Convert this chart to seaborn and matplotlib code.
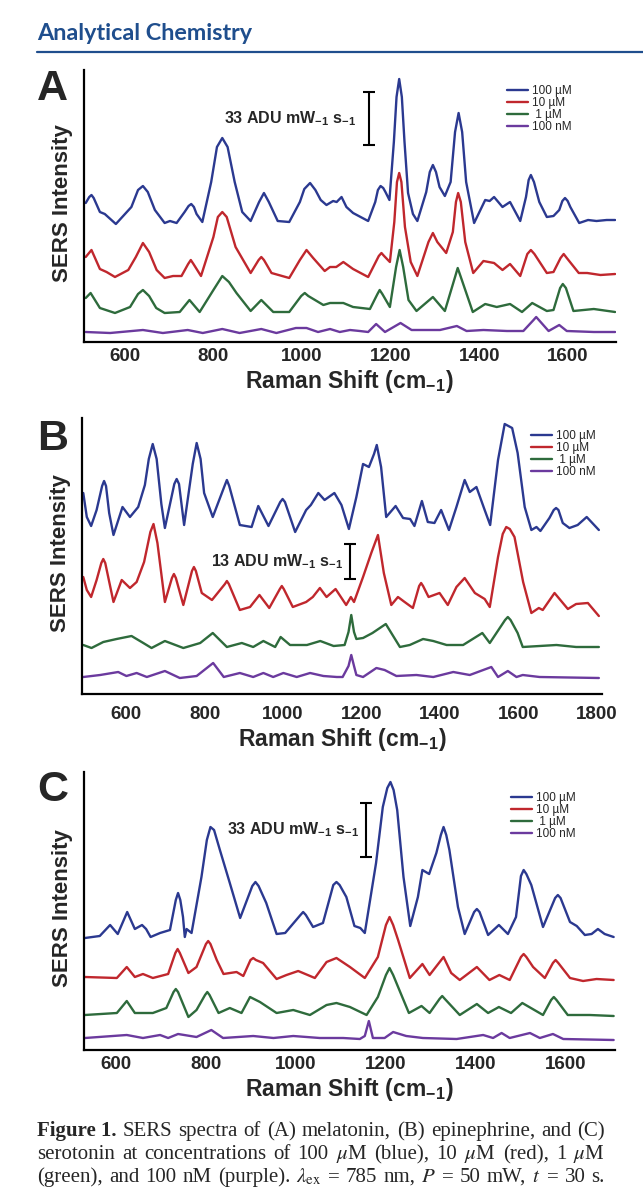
import matplotlib
matplotlib.use('Agg')
import matplotlib.pyplot as plt
import seaborn as sns
import pandas as pd

# ---- data: (Raman shift in cm-1, intensity in arbitrary units) ----
conc_labels = ['100 µM', '10 µM', ' 1 µM', '100 nM']
line_colors = ['#2b3990', '#c0272d', '#2e6b3c', '#6b3a9e']

# (A) melatonin
mel_100uM = [(512, 139), (520, 145), (525, 147), (530, 144), (544, 130), (555, 128), (580, 118), (615, 135),
             (630, 152), (641, 156), (652, 150), (668, 132), (690, 119), (702, 121), (717, 119), (735, 130),
             (744, 136), (750, 138), (756, 135), (762, 128), (775, 120), (795, 160), (808, 195), (820, 204),
             (832, 195), (848, 160), (865, 130), (884, 121), (903, 140), (914, 149), (925, 140), (945, 121),
             (971, 120), (995, 140), (1005, 153), (1018, 159), (1030, 152), (1042, 142), (1055, 137),
             (1070, 141), (1078, 140), (1089, 145), (1100, 135), (1115, 129), (1149, 121), (1165, 140),
             (1171, 152), (1177, 156), (1183, 154), (1188, 150), (1197, 142), (1207, 200), (1213, 245),
             (1219, 263), (1225, 245), (1231, 200), (1239, 149), (1250, 128), (1260, 121), (1280, 150),
             (1288, 170), (1295, 177), (1302, 170), (1310, 155), (1322, 146), (1335, 160), (1345, 210),
             (1353, 229), (1361, 210), (1370, 160), (1388, 119), (1413, 142), (1423, 141), (1433, 145),
             (1452, 135), (1469, 140), (1492, 121), (1505, 145), (1511, 162), (1516, 167), (1523, 160),
             (1535, 140), (1552, 125), (1567, 126), (1580, 132), (1587, 141), (1593, 144), (1599, 141),
             (1605, 135), (1625, 119), (1645, 122), (1664, 121), (1687, 122), (1706, 122)]
mel_10uM = [(512, 85), (525, 92), (544, 73), (559, 70), (578, 65), (608, 72), (625, 85), (641, 99), (655, 90),
            (672, 72), (690, 64), (709, 66), (728, 66), (743, 78), (749, 82), (755, 78), (772, 66), (800, 105),
            (810, 125), (820, 130), (830, 125), (850, 95), (884, 69), (902, 82), (908, 85), (914, 82), (931, 69),
            (971, 64), (995, 82), (1010, 92), (1025, 84), (1051, 71), (1063, 75), (1077, 75), (1093, 80),
            (1115, 73), (1149, 65), (1173, 86), (1179, 89), (1185, 86), (1198, 80), (1208, 120), (1214, 160),
            (1219, 169), (1224, 160), (1232, 115), (1245, 80), (1260, 66), (1285, 100), (1295, 109),
            (1305, 100), (1325, 89), (1340, 110), (1347, 140), (1352, 149), (1358, 140), (1368, 100), (1386, 69),
            (1409, 81), (1433, 79), (1452, 72), (1469, 78), (1492, 66), (1508, 88), (1516, 92), (1524, 88),
            (1552, 69), (1567, 70), (1583, 84), (1590, 88), (1597, 84), (1624, 69), (1643, 69), (1673, 67),
            (1706, 68)]
mel_1uM = [(512, 44), (523, 49), (544, 34), (578, 29), (612, 35), (630, 48), (641, 52), (655, 46), (671, 34),
           (690, 29), (724, 30), (746, 42), (769, 30), (800, 52), (820, 66), (835, 60), (852, 49), (884, 31),
           (908, 42), (935, 30), (971, 30), (998, 46), (1006, 49), (1014, 46), (1048, 37), (1063, 39),
           (1093, 39), (1115, 35), (1153, 33), (1170, 48), (1175, 52), (1181, 48), (1198, 35), (1212, 75),
           (1220, 92), (1228, 75), (1240, 42), (1258, 31), (1295, 45), (1322, 31), (1345, 65), (1351, 74),
           (1358, 65), (1385, 30), (1413, 38), (1439, 35), (1469, 38), (1496, 30), (1519, 39), (1552, 31),
           (1567, 32), (1582, 54), (1588, 58), (1595, 54), (1612, 31), (1658, 33), (1706, 30)]
mel_100nM = [(512, 10), (567, 9), (641, 12), (686, 9), (742, 12), (776, 9), (820, 13), (859, 9), (908, 13),
             (942, 9), (986, 14), (1010, 14), (1036, 10), (1063, 13), (1085, 10), (1108, 12), (1130, 11),
             (1149, 10), (1167, 18), (1187, 10), (1222, 19), (1247, 12), (1311, 12), (1349, 16), (1371, 11),
             (1409, 12), (1462, 11), (1499, 11), (1522, 22), (1528, 25), (1534, 22), (1556, 11), (1580, 17),
             (1597, 11), (1658, 10), (1706, 10)]

# (B) epinephrine
epi_100uM = [(491, 201), (500, 177), (511, 168), (525, 184), (539, 208), (544, 213), (549, 208), (557, 181),
             (568, 159), (591, 187), (610, 177), (631, 187), (648, 209), (658, 235), (668, 250), (678, 235),
             (690, 190), (699, 166), (723, 210), (729, 215), (735, 210), (748, 169), (770, 230), (780, 251),
             (790, 235), (799, 201), (821, 177), (851, 208), (857, 214), (863, 208), (890, 169), (920, 167),
             (937, 188), (963, 168), (993, 192), (999, 195), (1005, 192), (1031, 162), (1059, 184), (1071, 189),
             (1090, 201), (1106, 194), (1131, 201), (1149, 189), (1168, 165), (1187, 197), (1204, 230),
             (1219, 227), (1232, 240), (1239, 249), (1250, 227), (1263, 177), (1287, 188), (1306, 176),
             (1324, 175), (1335, 168), (1354, 193), (1369, 172), (1386, 171), (1403, 184), (1423, 164),
             (1442, 187), (1463, 214), (1476, 202), (1493, 207), (1514, 184), (1528, 169), (1548, 234),
             (1565, 270), (1584, 266), (1598, 241), (1616, 187), (1633, 164), (1646, 167), (1656, 163),
             (1679, 176), (1690, 184), (1696, 186), (1702, 184), (1713, 171), (1730, 166), (1751, 169),
             (1774, 177), (1805, 164)]
epi_10uM = [(491, 117), (500, 104), (511, 97), (525, 114), (537, 131), (542, 135), (547, 131), (568, 92),
            (589, 114), (610, 106), (627, 112), (646, 132), (662, 162), (670, 170), (680, 151), (699, 92),
            (717, 116), (722, 120), (727, 116), (746, 89), (768, 123), (773, 127), (778, 123), (793, 101),
            (819, 94), (852, 110), (857, 113), (862, 110), (890, 84), (916, 87), (940, 99), (965, 86),
            (992, 105), (997, 108), (1002, 105), (1025, 87), (1059, 92), (1076, 97), (1094, 106), (1111, 97),
            (1134, 105), (1161, 89), (1173, 97), (1181, 92), (1204, 117), (1225, 141), (1242, 159), (1257, 121),
            (1276, 89), (1293, 97), (1310, 92), (1331, 86), (1347, 108), (1352, 111), (1357, 108), (1371, 97),
            (1399, 101), (1420, 89), (1442, 107), (1463, 116), (1489, 101), (1514, 95), (1527, 87), (1548, 137),
            (1560, 160), (1569, 167), (1578, 165), (1590, 157), (1612, 112), (1633, 81), (1652, 86), (1662, 84),
            (1692, 101), (1726, 85), (1747, 90), (1777, 91), (1805, 78)]
epi_1uM = [(491, 49), (512, 46), (542, 52), (576, 55), (614, 58), (644, 51), (665, 46), (699, 53), (746, 46),
           (789, 51), (821, 61), (857, 47), (895, 51), (924, 47), (950, 53), (980, 47), (994, 57), (1018, 49),
           (1061, 49), (1095, 53), (1129, 48), (1157, 49), (1167, 62), (1174, 79), (1181, 62), (1187, 55),
           (1204, 56), (1228, 61), (1262, 70), (1298, 47), (1323, 49), (1357, 55), (1383, 53), (1417, 49),
           (1459, 49), (1508, 61), (1527, 51), (1566, 74), (1573, 77), (1580, 74), (1598, 61), (1611, 47),
           (1654, 48), (1697, 49), (1747, 47), (1805, 47)]
epi_100nM = [(491, 17), (534, 19), (580, 22), (601, 18), (627, 21), (653, 17), (699, 23), (737, 16), (780, 18),
             (822, 31), (849, 17), (890, 21), (924, 17), (950, 21), (975, 17), (1001, 21), (1035, 17), (1069, 21),
             (1103, 18), (1137, 17), (1152, 17), (1167, 28), (1174, 39), (1181, 28), (1187, 19), (1204, 17),
             (1238, 26), (1259, 24), (1289, 18), (1340, 19), (1383, 17), (1434, 22), (1476, 19), (1531, 27),
             (1548, 17), (1573, 23), (1595, 17), (1611, 19), (1654, 17), (1805, 16)]

# (C) serotonin
ser_100uM = [(531, 112), (564, 114), (587, 125), (604, 116), (625, 138), (642, 121), (658, 125), (667, 121),
             (677, 113), (698, 117), (720, 120), (733, 150), (738, 157), (743, 150), (749, 133), (753, 113),
             (757, 121), (768, 117), (790, 173), (802, 210), (810, 223), (818, 220), (831, 200), (853, 167),
             (876, 132), (903, 164), (910, 168), (917, 164), (934, 147), (957, 116), (976, 117), (1010, 135),
             (1016, 138), (1022, 135), (1038, 123), (1060, 127), (1083, 165), (1090, 168), (1097, 165),
             (1112, 153), (1130, 124), (1143, 122), (1153, 117), (1178, 187), (1193, 243), (1203, 262),
             (1210, 268), (1217, 260), (1225, 240), (1239, 173), (1254, 124), (1271, 153), (1281, 180),
             (1296, 176), (1312, 197), (1322, 215), (1328, 223), (1334, 215), (1341, 200), (1360, 143),
             (1375, 116), (1396, 138), (1402, 141), (1408, 138), (1427, 115), (1451, 125), (1471, 116),
             (1489, 133), (1500, 174), (1506, 180), (1512, 176), (1523, 165), (1549, 123), (1576, 152),
             (1582, 155), (1588, 152), (1609, 128), (1624, 124), (1642, 115), (1657, 116), (1671, 121),
             (1686, 116), (1706, 113)]
ser_10uM = [(531, 73), (602, 72), (624, 83), (642, 73), (660, 76), (682, 72), (716, 76), (732, 97), (737, 101),
            (742, 97), (761, 77), (779, 83), (800, 106), (805, 109), (810, 106), (824, 90), (839, 76), (868, 78),
            (883, 74), (899, 90), (905, 92), (911, 90), (927, 87), (957, 71), (979, 75), (1005, 79), (1042, 72),
            (1068, 88), (1090, 92), (1120, 83), (1153, 72), (1182, 93), (1200, 125), (1208, 133), (1216, 125),
            (1227, 110), (1253, 72), (1281, 86), (1297, 75), (1328, 93), (1345, 77), (1364, 70), (1402, 83),
            (1430, 70), (1452, 75), (1475, 70), (1500, 93), (1506, 96), (1512, 93), (1527, 83), (1553, 72),
            (1571, 87), (1577, 90), (1583, 87), (1609, 72), (1638, 69), (1668, 71), (1706, 70)]
ser_1uM = [(531, 35), (602, 37), (624, 49), (642, 37), (682, 37), (712, 42), (728, 58), (733, 61), (738, 58),
           (761, 33), (779, 40), (798, 55), (803, 58), (808, 55), (828, 37), (853, 42), (879, 37), (898, 53),
           (920, 48), (957, 37), (994, 40), (1031, 35), (1068, 45), (1090, 47), (1120, 43), (1157, 35),
           (1182, 53), (1200, 75), (1208, 82), (1216, 75), (1227, 63), (1251, 37), (1279, 44), (1297, 37),
           (1319, 51), (1325, 54), (1331, 51), (1364, 35), (1402, 46), (1427, 37), (1451, 43), (1478, 37),
           (1503, 47), (1549, 35), (1567, 50), (1573, 53), (1579, 50), (1604, 35), (1653, 35), (1706, 34)]
ser_100nM = [(531, 12), (624, 15), (660, 12), (698, 15), (716, 12), (738, 16), (779, 13), (812, 20), (838, 12),
             (905, 14), (950, 12), (994, 14), (1053, 12), (1105, 12), (1142, 11), (1153, 14), (1162, 29),
             (1171, 12), (1197, 12), (1216, 18), (1245, 14), (1282, 12), (1357, 11), (1416, 15), (1438, 12),
             (1457, 17), (1475, 12), (1520, 17), (1542, 12), (1571, 16), (1594, 11), (1706, 10)]

panel_letters = ['A', 'B', 'C']
panel_series = [[mel_100uM, mel_10uM, mel_1uM, mel_100nM],
                [epi_100uM, epi_10uM, epi_1uM, epi_100nM],
                [ser_100uM, ser_10uM, ser_1uM, ser_100nM]]
panel_xticks = [[600, 800, 1000, 1200, 1400, 1600],
                [600, 800, 1000, 1200, 1400, 1600, 1800],
                [600, 800, 1000, 1200, 1400, 1600]]
# scale bars: (shift position, low, high, label)
scale_bars = [(1152, 197, 250, '33'), (1171, 115, 150, '13'), (1156, 193, 247, '33')]

# ---- layout (pixels of the 643 x 1200 page) ----
W, H = 643, 1200
axes_px = [(83.5, 616, 70, 342), (81.7, 602, 418, 694), (84, 615, 772, 1050)]
xlims = [(507, 1708), (487, 1813), (529, 1709)]
ylims = [272, 276, 278]
legend_anchor = [(0.795, 0.945), (0.864, 0.955), (0.804, 0.928)]
letter_base = [100, 450, 801]
label_gap = [9.5, 5, 5]

sns.set_theme(style='white')
plt.rcParams['font.family'] = ['Liberation Sans', 'DejaVu Sans']
plt.rcParams['mathtext.fontset'] = 'stix'

fig = plt.figure(figsize=(W / 100, H / 100), dpi=100)

for i in range(3):
    l, r, t, b = axes_px[i]
    ax = fig.add_axes([l / W, 1 - b / H, (r - l) / W, (b - t) / H])

    rows = []
    for lab, pts in zip(conc_labels, panel_series[i]):
        for x, y in pts:
            rows.append((x, y, lab))
    df = pd.DataFrame(rows, columns=['shift', 'intensity', 'conc'])
    sns.lineplot(data=df, x='shift', y='intensity', hue='conc', hue_order=conc_labels,
                 palette=line_colors, sort=False, estimator=None, lw=1.7, ax=ax)
    for ln in ax.lines:
        ln.set_solid_joinstyle('round')

    ax.set_xlim(*xlims[i])
    ax.set_ylim(0, ylims[i])
    ax.set_yticks([])
    ax.set_xticks(panel_xticks[i])
    ax.tick_params(axis='x', labelsize=13.5, pad=4.5, length=(4 if i == 1 else 0), width=1.3)
    for tl in ax.get_xticklabels():
        tl.set_fontweight('bold')
    for s in ['top', 'right']:
        ax.spines[s].set_visible(False)
    for s in ['left', 'bottom']:
        ax.spines[s].set_color('black')
        ax.spines[s].set_linewidth(1.6)

    ax.set_xlabel(r'Raman Shift (cm$_{\mathregular{-1}}$)', fontsize=16.5, fontweight='bold', labelpad=2)
    ax.set_ylabel('SERS Intensity', fontsize=16, fontweight='bold')
    ax.yaxis.set_label_coords(-0.02, 0.51)

    handles, labels = ax.get_legend_handles_labels()
    ax.legend(handles, labels, loc='upper left', bbox_to_anchor=legend_anchor[i], frameon=False,
              fontsize=8.5, handlelength=1.8, handletextpad=0.3, labelspacing=0.0,
              borderpad=0, borderaxespad=0)

    sx, lo, hi, val = scale_bars[i]
    ax.errorbar(sx, (lo + hi) / 2, yerr=(hi - lo) / 2, fmt='none', ecolor='black',
                elinewidth=1.5, capsize=4.5, capthick=1.5)
    ax.annotate(val + r' ADU mW$_{\mathregular{-1}}$ s$_{\mathregular{-1}}$', xy=(sx, (lo + hi) / 2),
                xytext=(-label_gap[i], 0), textcoords='offset points', ha='right', va='center',
                fontsize=11.5, fontweight='bold')

    fig.text(37 / W, 1 - letter_base[i] / H, panel_letters[i], fontsize=31, fontweight='bold',
             va='baseline', ha='left')

# journal header
blue = '#1f4e8d'
fig.text(37 / W, 1 - 40 / H, 'Analytical Chemistry', fontsize=16.8, fontweight='bold',
         family='Lato', color=blue, va='baseline')
fig.add_artist(plt.Line2D([37 / W, 1], [1 - 51.5 / H, 1 - 51.5 / H], color=blue, lw=1.6))

# caption, justified between two margins
cap_lines = [
    [('Figure 1.', True), ('SERS', False), ('spectra', False), ('of', False), ('(A)', False),
     ('melatonin,', False), ('(B)', False), ('epinephrine,', False), ('and', False), ('(C)', False)],
    [('serotonin', False), ('at', False), ('concentrations', False), ('of', False), ('100', False),
     (r'$\mu$M', False), ('(blue),', False), ('10', False), (r'$\mu$M', False), ('(red),', False),
     ('1', False), (r'$\mu$M', False)],
    [('(green),', False), ('and', False), ('100', False), ('nM', False), ('(purple).', False),
     (r'$\lambda_{\rm ex}$', False), ('=', False), ('785', False), ('nm,', False), (r'$P$', False),
     ('=', False), ('50', False), ('mW,', False), (r'$t$', False), ('=', False), ('30', False), ('s.', False)],
]
cap_base = [1136, 1159, 1182]
cap_left, cap_right = 37, 605
renderer = fig.canvas.get_renderer()
for words, yb in zip(cap_lines, cap_base):
    texts = [fig.text(0, 1 - yb / H, w, fontsize=15, family='Liberation Serif',
                      fontweight=('bold' if bold else 'normal'), va='baseline') for w, bold in words]
    widths = [t.get_window_extent(renderer).width for t in texts]
    gap = (cap_right - cap_left - sum(widths)) / (len(texts) - 1)
    x = cap_left
    for t, w in zip(texts, widths):
        t.set_x(x / W)
        x += w + gap

fig.savefig('out.png', dpi=100)
